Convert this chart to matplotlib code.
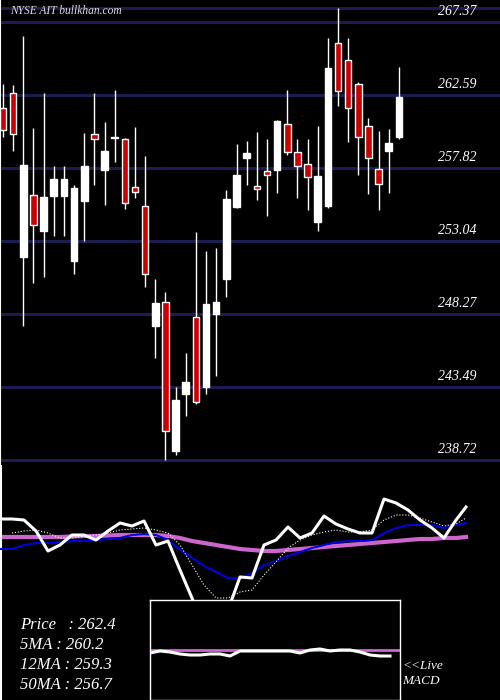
import matplotlib
matplotlib.use("Agg")
import matplotlib.pyplot as plt
from matplotlib.patches import Rectangle
from matplotlib.transforms import blended_transform_factory

opens  = [261.74,262.72,251.99,256.05,253.70,255.98,255.98,251.73,255.66,260.04,257.68,259.84,259.71,256.57,255.33,247.48,249.05,239.31,243.03,248.07,243.49,248.27,250.56,255.27,258.47,256.64,257.62,257.68,260.69,258.86,258.08,254.28,255.33,265.99,264.88,263.31,260.56,257.75,258.93,259.84]
highs  = [263.31,263.24,266.45,260.43,262.72,257.95,257.95,256.70,260.10,262.72,260.82,262.92,259.78,260.50,258.60,250.56,249.71,243.49,245.72,253.63,252.39,252.58,256.38,259.39,259.58,260.17,259.71,260.95,262.92,259.71,259.71,260.56,266.32,268.28,266.32,263.44,261.09,260.23,260.37,264.42]
lows   = [259.84,258.93,247.48,250.29,250.69,253.37,253.37,250.88,253.04,256.70,255.40,258.21,255.13,255.85,250.03,245.39,238.72,239.05,241.60,242.40,243.03,244.21,249.38,255.20,256.70,255.72,254.68,256.18,258.67,255.85,255.07,253.70,255.20,261.87,259.52,257.36,256.12,255.07,256.18,259.71]
closes = [260.30,260.04,258.01,254.09,255.92,257.10,257.10,256.51,257.95,259.71,258.93,259.78,255.53,256.25,250.88,248.99,240.62,242.64,243.82,242.51,248.92,249.05,255.79,257.36,258.80,256.44,257.36,260.89,258.86,257.95,257.23,257.29,264.36,262.85,261.74,259.84,258.47,256.77,259.45,262.46]

grid_levels = [267.37, 262.59, 257.82, 253.04, 248.27, 243.49, 238.72]
top_level = 268.28

# lower panel indicator values (panel units, larger = lower)
price_line = [519,519,520,531,551,545,535,535,540,531,523,526,521,545,541,570,598,630,625,610,577,578,545,540,527,538,533,516,524,529,533,533,499,503,510,520,528,538,520,507]
ma5_line = [None,533,531,530,533,538,538,536,535,533,530,529,528,530,533,545,565,585,598,598,592,590,575,562,548,540,535,532,530,532,532,530,520,515,515,518,522,526,524,518]
ma12_line = [549,549,545,543,543,542,541,541,540,539,538,535,534,535,540,550,558,566,572,578,578,573,565,561,556,552,548,545,542,541,541,540,533,528,525,525,525,528,525,523]
ma50_line = [537,537,537,537,537,537,536.5,536,536,535.5,535,535,535,535,536,538,541,543,545,547,549,550,551,551,550,549,548,547,546,545,544,543,542,541,540,539,539,538,538,537]
macd_line = [653,651,652,654,655,655,654,654,656,651,651,651,651,651,651,653,650,649,651,650,650,652,655,656,656]
macd_signal = 650

labels = ["Price   : 262.4", "5MA : 260.2", "12MA : 259.3", "50MA : 256.7"]

fig = plt.figure(figsize=(5, 7), dpi=100, facecolor="black")
serif = "Liberation Serif"

# main price panel
ax = fig.add_axes([0, 1 - 465/700, 1, 465/700], facecolor="black")
ax.set_xlim(-0.3, 48.96)
ax.set_ylim(238.39, 268.80)
for lv in grid_levels + [top_level]:
    ax.axhline(lv, color="#1c1c50", lw=2.2, zorder=1)
tr = blended_transform_factory(ax.transAxes, ax.transData)
for lv in grid_levels:
    ax.text(476/500, lv + 0.25, f"{lv:.2f}", transform=tr,
            color="white", fontsize=10, family=serif, style="italic", ha="right", va="bottom", zorder=3)
w = 0.65
for i, (o, h, l, c) in enumerate(zip(opens, highs, lows, closes)):
    ax.vlines(i, l, h, color="white", lw=1, zorder=2)
    up = c >= o
    fc = "white" if up else "#cc0000"
    ax.add_patch(Rectangle((i - w/2, min(o, c)), w, max(abs(c - o), 0.08),
                           facecolor=fc, edgecolor="white", lw=1, zorder=3))
ax.text(10/500, 1 - 11/465, "NYSE AIT bullkhan.com", transform=ax.transAxes, color="#dddddd",
        fontsize=8.3, family=serif, style="italic", va="center", ha="left")
ax.axvline(-0.3, color="white", lw=1.5)
for s in ax.spines.values():
    s.set_visible(False)
ax.set_xticks([]); ax.set_yticks([])

# lower indicator panel
ax2 = fig.add_axes([0, 0, 1, 235/700], facecolor="black")
ax2.set_xlim(0, 500)
ax2.set_ylim(700, 465)
xs = [12 * i if i < 39 else 466 for i in range(40)]
ax2.plot(xs, ma50_line, color="#cc66cc", lw=3, zorder=2)
ax2.plot(xs, ma12_line, color="#0000dd", lw=1.5, zorder=3)
ax2.plot(xs[1:], ma5_line[1:], color="white", lw=0.8, ls=":", zorder=3)
ax2.plot(xs, price_line, color="white", lw=2.2, zorder=4)
for s in ax2.spines.values():
    s.set_visible(False)
ax2.set_xticks([]); ax2.set_yticks([])
ax2.axvline(0.5, color="white", lw=1.5)
for k, t in enumerate(labels):
    ax2.text(20, 625 + 20 * k, t, color="white", fontsize=12, family=serif, style="italic", va="center")
ax2.text(402, 666, "<<Live", color="white", fontsize=9.5, family=serif, style="italic", va="center")
ax2.text(402, 681, "MACD", color="white", fontsize=9.5, family=serif, style="italic", va="center")

ax3 = fig.add_axes([150/500, 0, 250/500, 100/700], facecolor="black")
ax3.set_xlim(0, 250)
ax3.set_ylim(700, 600)
mx = [10 * i for i in range(len(macd_line))]
ax3.axhline(macd_signal, color="#cc66cc", lw=2)
ax3.plot(mx, macd_line, color="white", lw=2.2)
for s in ax3.spines.values():
    s.set_color("white"); s.set_linewidth(1)
ax3.set_xticks([]); ax3.set_yticks([])

fig.savefig("out.png", dpi=100, facecolor="black")
